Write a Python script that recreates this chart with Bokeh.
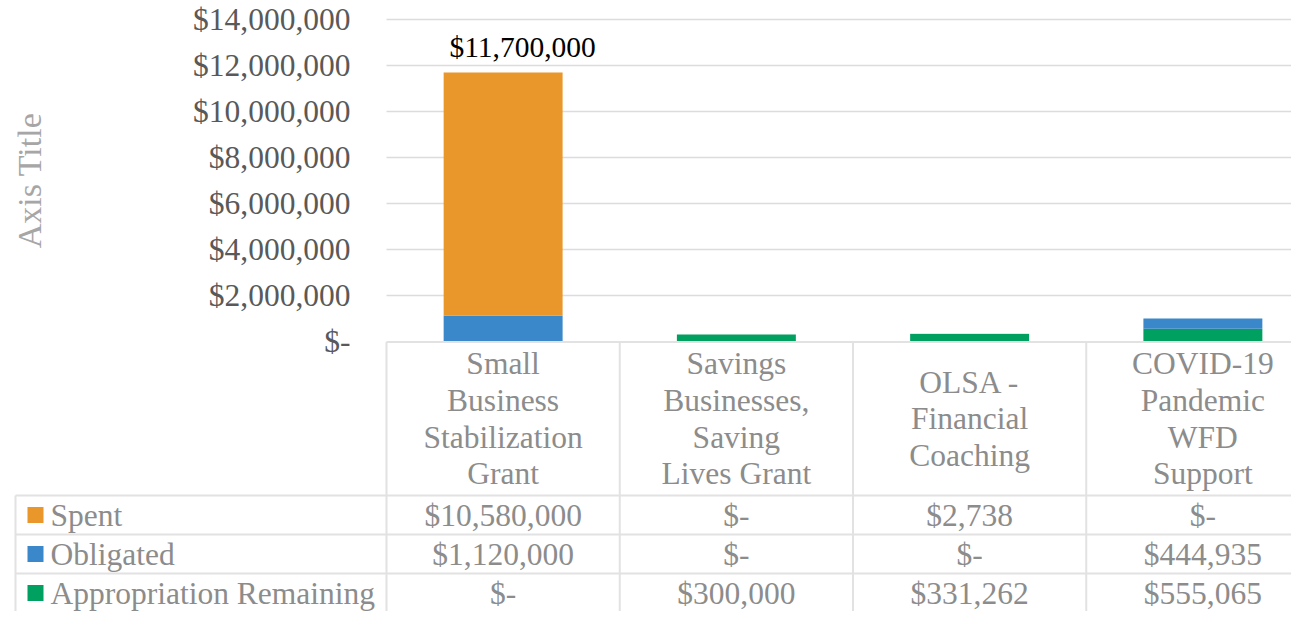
import math
from bokeh.plotting import figure
from bokeh.models import Range1d, LinearAxis, FixedTicker, ColumnDataSource
from bokeh.core.properties import value
from bokeh.embed import file_html
from bokeh.resources import INLINE

# ---------------- data ----------------
categories = [
    "Small\nBusiness\nStabilization\nGrant",
    "Savings\nBusinesses,\nSaving\nLives Grant",
    "OLSA -\nFinancial\nCoaching",
    "COVID-19\nPandemic\nWFD\nSupport",
]
series_names = ["Spent", "Obligated", "Appropriation Remaining"]
spent = [10580000, 0, 2738, 0]
obligated = [1120000, 0, 0, 444935]
remaining = [0, 300000, 331262, 555065]
tick_values = [0, 2000000, 4000000, 6000000, 8000000, 10000000, 12000000, 14000000]
tick_labels = ["$-", "$2,000,000", "$4,000,000", "$6,000,000", "$8,000,000",
               "$10,000,000", "$12,000,000", "$14,000,000"]
axis_title = "Axis Title"
label_index = [0]  # bar that carries a total data label

# ---------------- style ----------------
C_SPENT = "#E9962A"
C_OBL = "#3A87C9"
C_REM = "#00A060"
series_colors = [C_SPENT, C_OBL, C_REM]
FONT = value("Liberation Serif")
TXT_GRAY = "#8c8c8c"
TICK_GRAY = "#595959"
LINE_GRAY = "#e2e2e2"

# ---------------- layout helpers (reference pixel -> data) ----------------
COL_W = 233.25      # px per category
X0 = 386.0          # px of left edge of first category
Y0 = 341.0          # px of value 0
PX_PER_UNIT = 23.0 / 1e6
W, H = 1291, 611


def ux(X):
    return (X - X0) / COL_W


def vy(Y):
    return (Y0 - Y) / PX_PER_UNIT


p = figure(width=W, height=H, output_backend="svg", toolbar_location=None,
           x_axis_type=None, y_axis_type=None,
           x_range=Range1d(ux(0), ux(W)),
           y_range=Range1d(vy(H), vy(0)),
           min_border=0, min_border_left=0, min_border_right=0,
           min_border_top=0, min_border_bottom=0)
p.outline_line_color = None
p.background_fill_color = "white"
p.border_fill_color = "white"

n = len(categories)
xs = [i + 0.5 for i in range(n)]

# gridlines (non-zero ticks)
gt = [t for t in tick_values if t > 0]
p.segment(x0=[0] * len(gt), x1=[ux(W + 20)] * len(gt), y0=gt, y1=gt,
          line_color="#dcdcdc", line_width=1.5)

# stacked bars
src = ColumnDataSource(dict(x=xs, spent=spent, obligated=obligated, remaining=remaining))
p.vbar_stack(["remaining", "obligated", "spent"], x="x", width=0.51, source=src,
             fill_color=[C_REM, C_OBL, C_SPENT], line_color=None)

# total data label
totals = [s + o + r for s, o, r in zip(spent, obligated, remaining)]


def fmt(v):
    return "$-" if v == 0 else "${:,.0f}".format(v)


p.text(x=[xs[i] for i in label_index], y=[totals[i] for i in label_index],
       text=[fmt(totals[i]) for i in label_index],
       text_font=FONT, text_font_size=value("29.5px"), text_color="#000000",
       text_align="center", text_baseline="middle", x_offset=19.5, y_offset=-25)

# y axis at the left edge of the plot area
ax = LinearAxis(fixed_location=0, ticker=FixedTicker(ticks=tick_values),
                major_label_overrides={t: l for t, l in zip(tick_values, tick_labels)})
ax.axis_line_color = None
ax.major_tick_line_color = None
ax.minor_tick_line_color = None
ax.major_tick_in = 0
ax.major_tick_out = 0
ax.major_label_standoff = 36
ax.major_label_text_font = "Liberation Serif"
ax.major_label_text_font_size = "31.5px"
ax.major_label_text_color = TICK_GRAY
p.add_layout(ax, "left")

# axis title
p.text(x=[ux(29)], y=[vy(180)], text=[axis_title], angle=math.pi / 2,
       text_font=FONT, text_font_size=value("34px"), text_color="#a6a6a6",
       text_align="center", text_baseline="middle")

# ---------------- data table ----------------
cat_row_bottom = 495
row_tops = [495, 534, 573]
row_centers = [514.5, 553.5, 592.5]
right = ux(W + 20)
left_tbl = ux(15)
hx0 = [0] + [left_tbl] * 3
hx1 = [right] * 4
hy = [vy(341.5)] + [vy(Y) for Y in row_tops]
p.segment(x0=hx0, x1=hx1, y0=hy, y1=hy, line_color=LINE_GRAY, line_width=2)
vx = [left_tbl] + [float(i) for i in range(n)]
vy0 = [vy(row_tops[0])] + [vy(341.5)] * n
vy1 = [vy(H + 10)] * (n + 1)
p.segment(x0=vx, x1=vx, y0=vy0, y1=vy1, line_color=LINE_GRAY, line_width=2)

# category labels
p.text(x=xs, y=[vy((341.5 + cat_row_bottom) / 2)] * n, text=categories, text_font=FONT,
       text_font_size=value("31.5px"), text_color=TXT_GRAY, text_align="center",
       text_baseline="middle", text_line_height=1.05)

# values
rows = [spent, obligated, remaining]
tx, ty, tt = [], [], []
for r, vals in enumerate(rows):
    for i, v in enumerate(vals):
        tx.append(xs[i])
        ty.append(vy(row_centers[r]))
        tt.append(fmt(v))
p.text(x=tx, y=ty, text=tt, text_font=FONT, text_font_size=value("31.5px"),
       text_color=TXT_GRAY, text_align="center", text_baseline="middle")

# legend keys
p.scatter(x=[ux(35)] * 3, y=[vy(Y) for Y in row_centers], marker="square", size=16,
          fill_color=series_colors, line_color=None)
p.text(x=[ux(50)] * 3, y=[vy(Y) for Y in row_centers], text=series_names,
       text_font=FONT, text_font_size=value("31.5px"), text_color=TXT_GRAY,
       text_align="left", text_baseline="middle")

open("out.html", "w").write(file_html(p, INLINE))
